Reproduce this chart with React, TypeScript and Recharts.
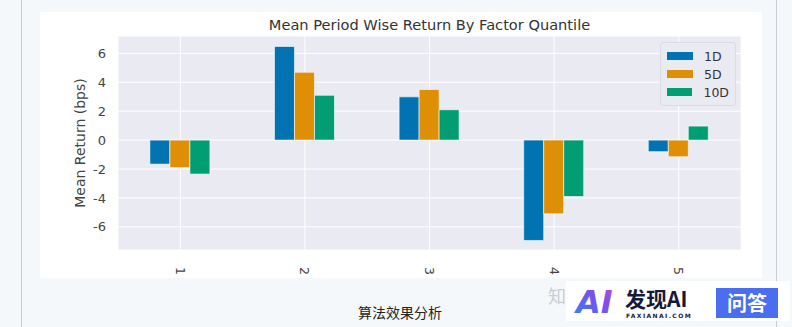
import React from "react";
import {
  BarChart,
  Bar,
  XAxis,
  YAxis,
  CartesianGrid,
  Label,
} from "recharts";

const quantiles = ["1", "2", "3", "4", "5"];
const ret1D = [-1.66, 6.48, 2.99, -6.94, -0.8];
const ret5D = [-1.9, 4.69, 3.5, -5.1, -1.15];
const ret10D = [-2.35, 3.1, 2.1, -3.9, 0.97];
const yTicks = [-6, -4, -2, 0, 2, 4, 6];

const seriesInfo = [
  { key: "1D", color: "#0173b2" },
  { key: "5D", color: "#de8f05" },
  { key: "10D", color: "#029e73" },
];

const data = quantiles.map((q, i) => ({
  quantile: q,
  "1D": ret1D[i],
  "5D": ret5D[i],
  "10D": ret10D[i],
}));

const font = "'DejaVu Sans', sans-serif";
const cjk = "'Noto Sans CJK SC', sans-serif";

const RotatedTick = (props: any) => {
  const { x, y, payload } = props;
  return (
    <text
      x={x}
      y={y + 9}
      transform={`rotate(90 ${x} ${y + 9})`}
      textAnchor="start"
      dominantBaseline="central"
      fontSize={12.5}
      fill="#444"
      fontFamily={font}
    >
      {payload.value}
    </text>
  );
};

// legend drawn over the plot, top right, like matplotlib's
const LegendBox = () => (
  <div
    style={{
      position: "absolute",
      left: 620,
      top: 30,
      width: 62,
      background: "#eaeaf2",
      border: "1px solid #dcdce6",
      borderRadius: 3,
      padding: "4px 6px",
      fontFamily: font,
      fontSize: 12.5,
      color: "#333",
    }}
  >
    {seriesInfo.map((s) => (
      <div key={s.key} style={{ display: "flex", alignItems: "center", height: 18 }}>
        <span style={{ width: 26, height: 8, background: s.color, marginRight: 11 }} />
        <span>{s.key}</span>
      </div>
    ))}
  </div>
);

const App = () => {
  return (
    <div
      style={{
        position: "absolute",
        left: 0,
        top: 0,
        width: 792,
        height: 327,
        background: "#f5f8fb",
        overflow: "hidden",
        fontFamily: font,
      }}
    >
      <div style={{ position: "absolute", left: 21, top: 0, width: 1, height: 327, background: "#c8ccd2" }} />
      <div style={{ position: "absolute", left: 776, top: 0, width: 1, height: 327, background: "#c8ccd2" }} />
      <div style={{ position: "absolute", left: 40, top: 12, width: 722, height: 266, background: "#fff" }}>
        <div
          style={{
            position: "absolute",
            left: 78,
            width: 623,
            top: 4,
            textAlign: "center",
            fontSize: 14.6,
            color: "#333",
          }}
        >
          Mean Period Wise Return By Factor Quantile
        </div>
        <BarChart
          width={722}
          height={266}
          data={data}
          margin={{ top: 24, right: 21, left: 0, bottom: 0 }}
          barCategoryGap="25.6%"
          barGap={0}
        >
          <CartesianGrid stroke="#ffffff" strokeWidth={1} fill="#eaeaf2" />
          <XAxis
            dataKey="quantile"
            axisLine={false}
            tickLine={false}
            height={28}
            tick={<RotatedTick />}
            interval={0}
          />
          <YAxis
            width={78}
            domain={[-7.6, 7.2]}
            ticks={yTicks}
            axisLine={false}
            tickLine={false}
            tick={{ fontSize: 13, fill: "#444", fontFamily: font }}
            tickMargin={6}
          >
            <Label
              value="Mean Return (bps)"
              angle={-90}
              position="insideLeft"
              offset={40}
              style={{ fontSize: 14, fill: "#444", fontFamily: font, textAnchor: "middle" }}
            />
          </YAxis>
          {seriesInfo.map((s) => (
            <Bar
              key={s.key}
              dataKey={s.key}
              fill={s.color}
              stroke="#ffffff"
              strokeWidth={0.6}
              isAnimationActive={false}
            />
          ))}
        </BarChart>
        <LegendBox />
      </div>
      <div
        style={{
          position: "absolute",
          left: 0,
          width: 800,
          top: 302,
          textAlign: "center",
          fontSize: 14,
          color: "#222",
          fontFamily: cjk,
        }}
      >
        算法效果分析
      </div>
      <div
        style={{
          position: "absolute",
          left: 548,
          top: 282,
          fontSize: 18,
          color: "#c9cdd2",
          fontFamily: cjk,
        }}
      >
        知
      </div>
      <div style={{ position: "absolute", left: 566, top: 281, width: 224, height: 40, background: "#fff" }}>
        <svg width={224} height={40} style={{ position: "absolute", left: 0, top: 0 }}>
          <defs>
            <linearGradient id="aig" x1="0" y1="1" x2="1" y2="0">
              <stop offset="0" stopColor="#2a8cf0" />
              <stop offset="0.6" stopColor="#7a4ff0" />
              <stop offset="1" stopColor="#c04ad8" />
            </linearGradient>
          </defs>
          <text x={10} y={32} fontSize={32} fontWeight={700} fontStyle="italic" fill="url(#aig)" fontFamily={font}>
            AI
          </text>
          <text x={59} y={26} fontSize={21} fontWeight={700} fill="#141a3c" fontFamily={cjk}>
            发现AI
          </text>
          <text x={60} y={37} fontSize={6} fontWeight={700} fill="#141a3c" fontFamily={font} letterSpacing={1.4}>
            FAXIANAI.COM
          </text>
          <rect x={150} y={7} width={62} height={30} fill="#4b6ef0" />
          <text x={181} y={30} fontSize={20} fontWeight={700} fill="#fff" textAnchor="middle" fontFamily={cjk}>
            问答
          </text>
        </svg>
      </div>
    </div>
  );
};

export default App;
